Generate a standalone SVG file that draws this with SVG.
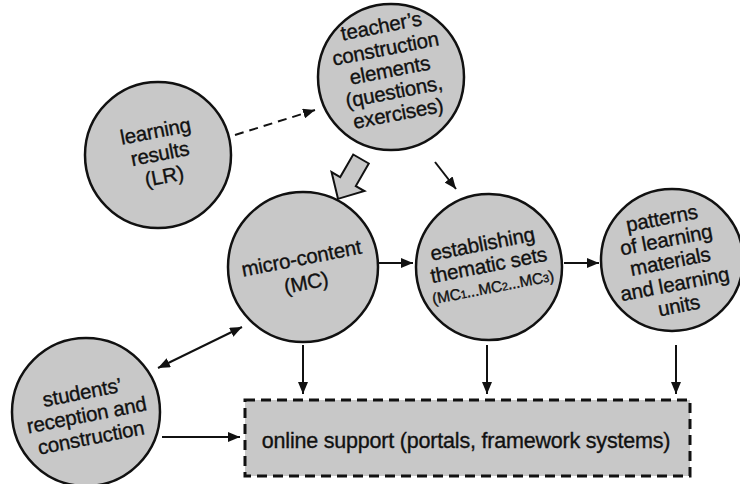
<svg xmlns="http://www.w3.org/2000/svg" width="740" height="484" viewBox="0 0 740 484">
<style>
.node{fill:#c8c8c8;stroke:#111;stroke-width:2.5}
.t{font-family:"Liberation Sans",Arial,Helvetica,sans-serif;font-size:20.5px;fill:#111;stroke:#111;stroke-width:0.35;text-anchor:middle;letter-spacing:-0.2px}
.c{stroke:#111;stroke-width:2;fill:none}
</style>
<defs>
<marker id="ah" viewBox="0 0 12 10" refX="12" refY="5" markerWidth="12" markerHeight="10" markerUnits="userSpaceOnUse" orient="auto-start-reverse"><path d="M0,0 L12,5 L0,10 z" fill="#111"/></marker>
</defs>
<rect width="740" height="484" fill="#fff"/>
<g id="connectors">
<line class="c" x1="235" y1="135" x2="315" y2="110" stroke-dasharray="9,6" marker-end="url(#ah)"/>
<polygon transform="translate(361,159) rotate(120)" points="0,-9 26,-9 26,-19 46,0 26,19 26,9 0,9" fill="#c8c8c8" stroke="#111" stroke-width="2"/>
<line class="c" x1="435" y1="162" x2="456" y2="189" marker-end="url(#ah)"/>
<line class="c" x1="378" y1="263" x2="413" y2="263" marker-end="url(#ah)"/>
<line class="c" x1="564" y1="263" x2="599" y2="263" marker-end="url(#ah)"/>
<line class="c" x1="158" y1="368" x2="242" y2="327" marker-start="url(#ah)" marker-end="url(#ah)"/>
<line class="c" x1="162" y1="437" x2="240" y2="437" marker-end="url(#ah)"/>
<line class="c" x1="303" y1="345" x2="303" y2="394" marker-end="url(#ah)"/>
<line class="c" x1="487" y1="345" x2="487" y2="394" marker-end="url(#ah)"/>
<line class="c" x1="676" y1="345" x2="676" y2="394" marker-end="url(#ah)"/>
</g>
<g id="teacher">
<circle class="node" cx="391" cy="77" r="73"/>
<g transform="rotate(-11 391 77)">
<text class="t" x="391" y="32">teacher’s</text>
<text class="t" x="391" y="55">construction</text>
<text class="t" x="391" y="77">elements</text>
<text class="t" x="391" y="99">(questions,</text>
<text class="t" x="391" y="121">exercises)</text>
</g>
</g>
<g id="learning-results">
<circle class="node" cx="158" cy="155" r="73"/>
<g transform="rotate(-11 158 155)">
<text class="t" x="160" y="138">learning</text>
<text class="t" x="160" y="161">results</text>
<text class="t" x="160" y="184">(LR)</text>
</g>
</g>
<g id="micro-content">
<circle class="node" cx="303" cy="267" r="75"/>
<g transform="rotate(-11 303 267)">
<text class="t" x="303" y="265">micro-content</text>
<text class="t" x="303" y="290">(MC)</text>
</g>
</g>
<g id="thematic-sets">
<circle class="node" cx="489" cy="267" r="73"/>
<g transform="rotate(-11 489 267)">
<text class="t" x="487" y="250">establishing</text>
<text class="t" x="489" y="272">thematic sets</text>
<text class="t" x="489" y="293" style="font-size:15.5px">(MC<tspan style="font-size:11px">1</tspan>...MC<tspan style="font-size:11px">2</tspan>...MC<tspan style="font-size:11px">3</tspan>)</text>
</g>
</g>
<g id="patterns">
<circle class="node" cx="672" cy="260" r="71"/>
<g transform="rotate(-11 672 260)">
<text class="t" x="670" y="224">patterns</text>
<text class="t" x="670" y="246">of learning</text>
<text class="t" x="670" y="268">materials</text>
<text class="t" x="670" y="291">and learning</text>
<text class="t" x="670" y="313">units</text>
</g>
</g>
<g id="students">
<circle class="node" cx="86" cy="412" r="74"/>
<g transform="rotate(-11 86 412)">
<text class="t" x="86" y="399">students’</text>
<text class="t" x="86" y="422">reception and</text>
<text class="t" x="86" y="445">construction</text>
</g>
</g>
<g id="online-support">
<rect x="245" y="400" width="445" height="76" fill="#c8c8c8" stroke="#111" stroke-width="3" stroke-dasharray="10,6"/>
<text class="t" x="466" y="448" style="font-size:21.5px">online support (portals, framework systems)</text>
</g>
</svg>
